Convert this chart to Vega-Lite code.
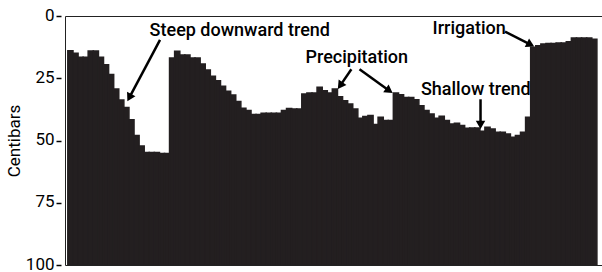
{
  "$schema": "https://vega.github.io/schema/vega-lite/v6.json",
  "autosize": {"type": "none"},
  "padding": {"left": 65, "top": 16, "right": 0, "bottom": 7},
  "width": 537,
  "height": 249,
  "config": {
    "view": {"stroke": "#222", "strokeWidth": 1},
    "font": "Roboto"
  },
  "datasets": {
    "soil": [
      {"i":0,"v":14},{"i":1,"v":15},{"i":2,"v":16.6},{"i":3,"v":16.6},{"i":4,"v":14.1},{"i":5,"v":14.1},{"i":6,"v":16.6},{"i":7,"v":19.6},{"i":8,"v":23.5},{"i":9,"v":29.3},
      {"i":10,"v":33.7},{"i":11,"v":36.7},{"i":12,"v":41.7},{"i":13,"v":48},{"i":14,"v":52.2},{"i":15,"v":54.8},{"i":16,"v":54.8},{"i":17,"v":54.8},{"i":18,"v":55.2},{"i":19,"v":55.2},
      {"i":20,"v":16.9},{"i":21,"v":14.2},{"i":22,"v":15.7},{"i":23,"v":15.7},{"i":24,"v":16.9},{"i":25,"v":16.9},{"i":26,"v":19.3},{"i":27,"v":21.7},{"i":28,"v":24.2},{"i":29,"v":26},
      {"i":30,"v":28.2},{"i":31,"v":30.2},{"i":32,"v":31.7},{"i":33,"v":34.3},{"i":34,"v":37},{"i":35,"v":38},{"i":36,"v":39.6},{"i":37,"v":39.6},{"i":38,"v":39.1},{"i":39,"v":39.1},
      {"i":40,"v":39.1},{"i":41,"v":39.1},{"i":42,"v":38},{"i":43,"v":37.1},{"i":44,"v":37.3},{"i":45,"v":37.3},{"i":46,"v":31.3},{"i":47,"v":30.9},{"i":48,"v":30.9},{"i":49,"v":28.6},
      {"i":50,"v":30},{"i":51,"v":30.9},{"i":52,"v":29.3},{"i":53,"v":32.4},{"i":54,"v":34},{"i":55,"v":35.3},{"i":56,"v":37.3},{"i":57,"v":41.1},{"i":58,"v":40.4},{"i":59,"v":40},
      {"i":60,"v":43.6},{"i":61,"v":40.7},{"i":62,"v":42},{"i":63,"v":42},{"i":64,"v":30.9},{"i":65,"v":31.6},{"i":66,"v":32.7},{"i":67,"v":32.7},{"i":68,"v":33.6},{"i":69,"v":36},
      {"i":70,"v":38},{"i":71,"v":39.4},{"i":72,"v":41.1},{"i":73,"v":40.3},{"i":74,"v":42},{"i":75,"v":43.4},{"i":76,"v":43.1},{"i":77,"v":44},{"i":78,"v":45.1},{"i":79,"v":45},
      {"i":80,"v":45},{"i":81,"v":46.3},{"i":82,"v":44.7},{"i":83,"v":45.4},{"i":84,"v":46.7},{"i":85,"v":46.7},{"i":86,"v":47.4},{"i":87,"v":48.7},{"i":88,"v":48},{"i":89,"v":46.7},
      {"i":90,"v":40.7},{"i":91,"v":12.6},{"i":92,"v":11.9},{"i":93,"v":11.2},{"i":94,"v":11},{"i":95,"v":11},{"i":96,"v":10.8},{"i":97,"v":10.8},{"i":98,"v":10.3},{"i":99,"v":8.8},
      {"i":100,"v":8.8},{"i":101,"v":8.8},{"i":102,"v":8.8},{"i":103,"v":9.3}
    ],
    "notes": [
      {"label":"Steep downward trend","x":33.3,"y":8.0},
      {"label":"Precipitation","x":56.3,"y":19.0},
      {"label":"Shallow trend","x":79.7,"y":31.7},
      {"label":"Irrigation","x":78.4,"y":7.2}
    ],
    "arrows": [
      {"id":"a1","x":17.62,"y":9.6,"x2":11.58,"y2":32.8},
      {"id":"a2","x":55.24,"y":21.4,"x2":53.04,"y2":27.95},
      {"id":"a3","x":56.84,"y":21.4,"x2":62.69,"y2":30.0},
      {"id":"a4","x":80.63,"y":33.45,"x2":80.63,"y2":43.69},
      {"id":"a5","x":85.45,"y":6.3,"x2":90.47,"y2":11.52}
    ]
  },
  "layer": [
    {
      "data": {"name": "soil"},
      "mark": {"type": "bar", "width": 5.183, "color": "#231f20", "stroke": "#231f20", "strokeWidth": 1.5, "clip": true},
      "encoding": {
        "x": {"field": "i", "type": "quantitative", "scale": {"domain": [-0.08, 103.53], "nice": false, "zero": false}, "axis": null},
        "y": {"field": "v", "type": "quantitative", "scale": {"domain": [0, 100], "reverse": true, "nice": false}, "title": "Centibars",
          "axis": {"title": "Centibars", "values": [0, 25, 50, 75, 100], "domain": false, "grid": false, "offset": 4, "tickSize": 5, "tickWidth": 1.5, "tickColor": "#000",
            "labelFont": "Roboto", "labelFontSize": 17, "labelColor": "#000", "labelPadding": 2, "labelOffset": -1,
            "titleFont": "Roboto", "titleFontSize": 17, "titleFontWeight": "normal", "titleColor": "#000", "titlePadding": 2}},
        "y2": {"datum": 100}
      }
    },
    {
      "data": {"name": "arrows"},
      "mark": {"type": "rule", "color": "#000", "strokeWidth": 2.5},
      "encoding": {
        "x": {"field": "x", "type": "quantitative", "axis": null},
        "y": {"field": "y", "type": "quantitative", "title": "Centibars"},
        "x2": {"field": "x2"},
        "y2": {"field": "y2"}
      }
    },
    {
      "data": {"name": "arrows"},
      "transform": [{"filter": "datum.id == 'a1'"}],
      "mark": {"type": "point", "shape": "triangle-up", "filled": true, "size": 90, "angle": 208, "color": "#000", "opacity": 1},
      "encoding": {"x": {"field": "x2", "type": "quantitative", "axis": null}, "y": {"field": "y2", "type": "quantitative", "title": "Centibars"}}
    },
    {
      "data": {"name": "arrows"},
      "transform": [{"filter": "datum.id == 'a2'"}],
      "mark": {"type": "point", "shape": "triangle-up", "filled": true, "size": 90, "angle": 215, "color": "#000", "opacity": 1},
      "encoding": {"x": {"field": "x2", "type": "quantitative", "axis": null}, "y": {"field": "y2", "type": "quantitative", "title": "Centibars"}}
    },
    {
      "data": {"name": "arrows"},
      "transform": [{"filter": "datum.id == 'a3'"}],
      "mark": {"type": "point", "shape": "triangle-up", "filled": true, "size": 90, "angle": 125, "color": "#000", "opacity": 1},
      "encoding": {"x": {"field": "x2", "type": "quantitative", "axis": null}, "y": {"field": "y2", "type": "quantitative", "title": "Centibars"}}
    },
    {
      "data": {"name": "arrows"},
      "transform": [{"filter": "datum.id == 'a4'"}],
      "mark": {"type": "point", "shape": "triangle-up", "filled": true, "size": 90, "angle": 180, "color": "#000", "opacity": 1},
      "encoding": {"x": {"field": "x2", "type": "quantitative", "axis": null}, "y": {"field": "y2", "type": "quantitative", "title": "Centibars"}}
    },
    {
      "data": {"name": "arrows"},
      "transform": [{"filter": "datum.id == 'a5'"}],
      "mark": {"type": "point", "shape": "triangle-up", "filled": true, "size": 90, "angle": 117, "color": "#000", "opacity": 1},
      "encoding": {"x": {"field": "x2", "type": "quantitative", "axis": null}, "y": {"field": "y2", "type": "quantitative", "title": "Centibars"}}
    },
    {
      "data": {"name": "notes"},
      "mark": {"type": "text", "font": "Roboto", "fontSize": 18, "fontWeight": 500, "color": "#000", "align": "center", "baseline": "alphabetic"},
      "encoding": {
        "x": {"field": "x", "type": "quantitative", "axis": null},
        "y": {"field": "y", "type": "quantitative", "title": "Centibars"},
        "text": {"field": "label"}
      }
    }
  ]
}
